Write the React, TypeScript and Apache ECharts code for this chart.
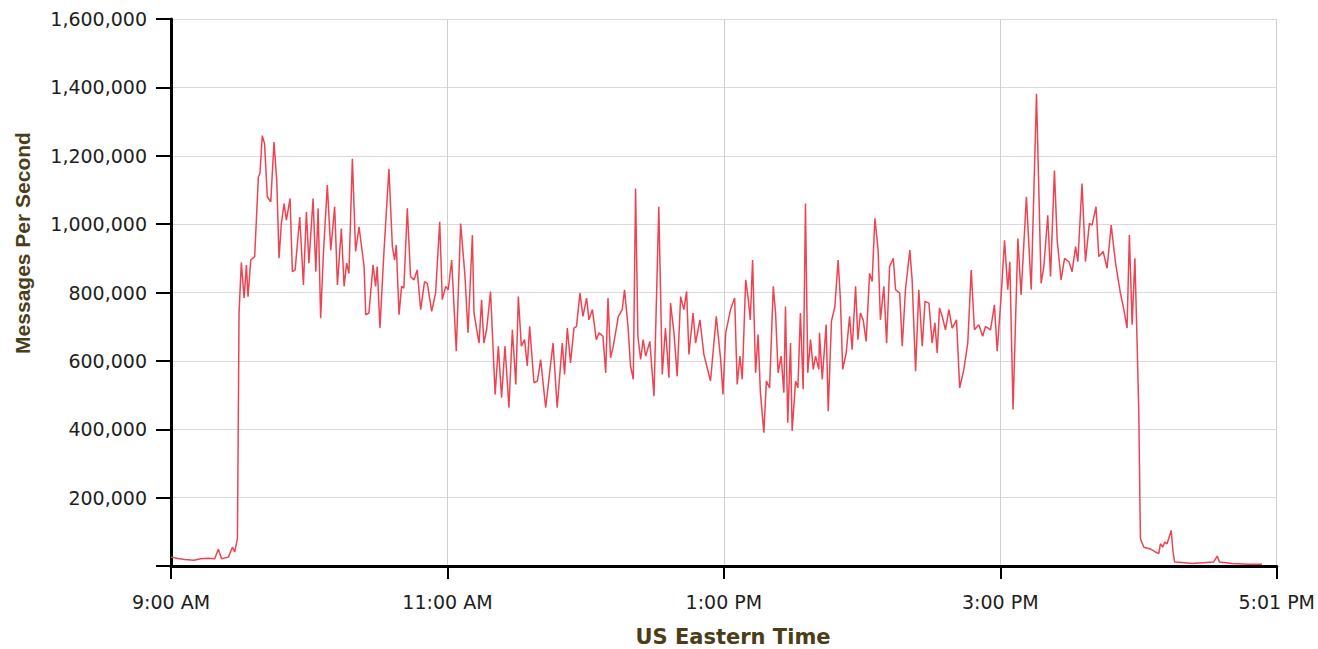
import React, { useEffect, useRef } from "react";
import * as echarts from "echarts";

// minutes after 9:00 AM
const minutes: number[] = [
  0, 3, 6, 10, 13, 16, 19, 20.6, 22, 25, 26.7, 27.7, 28.9, 29.6, 30.6, 31.8, 32.8, 33.5, 34.7, 36.4,
  38, 38.7, 39.7, 40.7, 41.9, 43.4, 44.8, 46, 47, 48, 49.2, 50.2, 51.8, 52.8, 54, 56, 57.6, 58.9, 60, 61.8,
  63, 64, 65.1, 66.3, 68, 69.5, 71.2, 72.4, 74.1, 75.3, 76.4, 77.4, 78.9, 80.3, 81.8,
  84, 84.7, 86.1, 87.9, 89, 89.7, 90.9, 92.6, 94.8, 96.3, 97.3, 98, 99.2, 100.3, 101.3, 102.8, 104.2, 105.7,
  107.1, 108.6, 110.3, 111.5, 113.4, 115.1, 116.9, 118, 119.5, 120.6, 122.1, 124.1, 126, 127.9, 129.2, 131.1,
  131.8, 134, 135.1, 136.1, 137.3, 139, 141, 142.4, 143.8, 145.3, 147, 148.5, 150, 151.1, 152.4, 153.8, 155,
  156, 157.9, 159.4, 160.8, 163, 165.2, 166.2, 168,
  170.2, 171.2, 172.4, 173.8, 175.3, 176.4, 177.9, 179.2, 180.8, 181.8, 183.3, 185, 186.2, 187.9, 189.1, 190.1,
  191.2, 192.4, 194.6, 196.3, 197.3, 198.8, 199.9, 201.1, 202.1, 203.1, 204.3, 205.4, 206.5, 208.3, 210.1, 212.2,
  213.7, 215.1, 216.6, 217.3, 218.8, 220.2, 221.7, 223.1, 224.3, 225.3, 227.1, 228.2, 230.1, 231.8, 234.7, 237.2,
  239.1, 240.1, 241.3, 243.4, 245.2, 246.3, 247.5, 248.5, 250, 251, 252, 253,
  254.3, 255.4, 256.4, 257.9, 259, 260.4, 262, 263, 264.1, 265.4, 266.6, 267.3, 268.3, 269.5, 270.2, 271.7,
  272.7, 273.8, 275, 276, 277, 278.2, 279.4, 280.4, 281.8, 282.1, 283.3, 285, 285.9, 287.3, 288.8, 290.2, 291.2,
  292.2, 293.7, 295.2, 296.3, 297.8, 298.8, 299.9, 301.1, 302.4, 303.9, 305, 306.2, 307.6, 308.6, 310.1, 311.3,
  312.6, 314.2, 315.2, 317, 318.1, 319.5, 321.4, 322.4, 323.9, 325.3, 326.8, 328, 329.7, 331.1, 332.3, 333.3,
  334.3, 335.5, 336.9, 338.4,
  339.8, 341.7, 343.1, 344.9, 346.6, 348.1, 349.5, 351.4, 353.1, 354.3, 356.5, 358.2, 359.4, 361.1, 362.6, 364,
  364.9, 366.3, 368.4, 369.8, 372.1, 374.2, 376.5, 378.5, 379.7, 381.4, 382.6, 384.3, 385.5, 387.2, 388.7, 390.6,
  392, 393.5, 394.5, 396.3, 397.8, 399.5, 400.7, 402.4, 403.6, 405.5, 407.2, 409, 410.8, 413, 414.5, 415.9, 416.9,
  418.1, 419.3, 420.3, 421, 421.7, 423.2,
  426, 428.2, 429.7, 430.4, 431.4, 432.3, 433.3, 435.1, 435.9, 436.6, 439.8, 444.2, 450, 453.6, 455.1, 456.1,
  461.6, 468.8, 474.6,
];

// messages per second, thousands
const messagesK: number[] = [
  26, 22, 19, 17, 21, 23, 21, 49, 21, 26, 55, 41, 80, 740, 888, 784, 880, 788, 895, 905,
  1138, 1148, 1259, 1235, 1080, 1065, 1240, 1128, 900, 1002, 1060, 1012, 1075, 861, 866, 1021, 822, 1036, 886, 1075,
  861, 1046, 725, 915, 1114, 924, 1051, 822, 987, 818, 886, 856, 1191, 920, 992,
  876, 735, 740, 881, 818, 876, 696, 915, 1162, 934, 895, 939, 735, 818, 813, 1046, 847, 837,
  866, 750, 832, 827, 745, 798, 1007, 779, 818, 808, 895, 628, 1002, 847, 682, 968,
  740, 652, 779, 652, 691, 803, 502, 643, 492, 643, 463, 691, 531, 788, 643, 662, 585,
  701, 536, 541, 604, 463, 594, 652, 463,
  652, 560, 696, 594, 696, 701, 798, 730, 784, 720, 750, 662, 682, 672, 565, 784,
  609, 643, 730, 750, 808, 701, 585, 546, 1104, 672, 604, 662, 614, 657, 497, 1051,
  560, 696, 551, 769, 682, 555, 788, 750, 803, 619, 740, 652, 720, 619, 541, 730,
  604, 502, 682, 750, 784, 531, 614, 546, 837, 788, 720, 895,
  565, 677, 507, 390, 541, 521, 818, 740, 565, 614, 507, 759, 419, 652, 395, 541,
  521, 740, 517, 1060, 565, 662, 575, 614, 575, 682, 546, 706, 453, 716, 759, 895, 779,
  575, 623, 730, 633, 818, 662, 740, 720, 657, 856, 832, 1017, 924, 720, 818, 652,
  876, 900, 808, 798, 643, 808, 924, 837, 570, 808, 643, 774, 769, 652, 711, 623,
  755, 730, 691, 750,
  696, 720, 521, 575, 652, 866, 691, 706, 672, 701, 691, 764, 628, 788, 953, 808,
  890, 458, 958, 793, 1080, 808, 1381, 827, 876, 1026, 847, 1157, 953, 837, 900, 890,
  861, 934, 890, 1119, 890, 1002, 997, 1051, 905, 920, 871, 997, 890, 798, 750, 696, 968,
  706, 900, 643, 449, 80, 55,
  50, 41, 36, 65, 55, 70, 65, 104, 41, 12, 10, 7, 10, 12, 29, 12,
  7, 5, 5,
];

const xTickLabels: string[] = ["9:00 AM", "11:00 AM", "1:00 PM", "3:00 PM", "5:01 PM"];
const yMax = 1600000;
const yStep = 200000;
const xSpanMinutes = 481;

const withCommas = (v: number) => String(v).replace(/\B(?=(\d{3})+(?!\d))/g, ",");

export default function App() {
  const ref = useRef<HTMLDivElement>(null);

  useEffect(() => {
    if (!ref.current) return;
    const chart = echarts.init(ref.current, null, { renderer: "svg" });
    const data = minutes.map((m, i) => [m, messagesK[i] * 1000]);
    const xStep = xSpanMinutes / (xTickLabels.length - 1);
    chart.setOption({
      animation: false,
      backgroundColor: "#ffffff",
      grid: { left: 171, right: 40, top: 19, bottom: 83 },
      xAxis: {
        type: "value",
        min: 0,
        max: xSpanMinutes,
        interval: xStep,
        axisLine: { show: true, onZero: false, lineStyle: { color: "#000", width: 3 } },
        axisTick: { show: true, length: 13, lineStyle: { color: "#000", width: 2 } },
        axisLabel: {
          margin: 26,
          color: "#1e1e1e",
          fontFamily: "DejaVu Sans",
          fontSize: 19,
          formatter: (v: number) => xTickLabels[Math.round(v / xStep)] ?? "",
        },
        splitLine: { show: true, lineStyle: { color: "#cfcfcf", width: 1 } },
      },
      yAxis: {
        type: "value",
        min: 0,
        max: yMax,
        interval: yStep,
        axisLine: { show: true, lineStyle: { color: "#000", width: 3 } },
        axisTick: { show: true, length: 15, lineStyle: { color: "#000", width: 2 } },
        axisLabel: {
          margin: 24,
          color: "#1e1e1e",
          fontFamily: "DejaVu Sans",
          fontSize: 19,
          formatter: (v: number) => (v === 0 ? "" : withCommas(v)),
        },
        splitLine: { show: true, lineStyle: { color: "#dadada", width: 1 } },
      },
      graphic: [
        {
          type: "text",
          x: 22,
          y: 243,
          rotation: Math.PI / 2,
          style: {
            text: "Messages Per Second",
            fill: "#4a3d17",
            font: "bold 21px 'Liberation Sans', Arial, sans-serif",
            textAlign: "center",
            textVerticalAlign: "middle",
          },
        },
        {
          type: "text",
          x: 733,
          y: 637,
          style: {
            text: "US Eastern Time",
            fill: "#4a3d17",
            font: "bold 21px 'DejaVu Sans', sans-serif",
            textAlign: "center",
            textVerticalAlign: "middle",
          },
        },
      ],
      series: [
        {
          type: "line",
          data,
          showSymbol: false,
          symbol: "none",
          lineStyle: { color: "#ee4452", width: 1.5 },
          emphasis: { disabled: true },
        },
      ],
    });
    return () => chart.dispose();
  }, []);

  return (
    <div
      ref={ref}
      style={{ position: "fixed", left: 0, top: 0, width: 1318, height: 649, background: "#fff" }}
    />
  );
}
